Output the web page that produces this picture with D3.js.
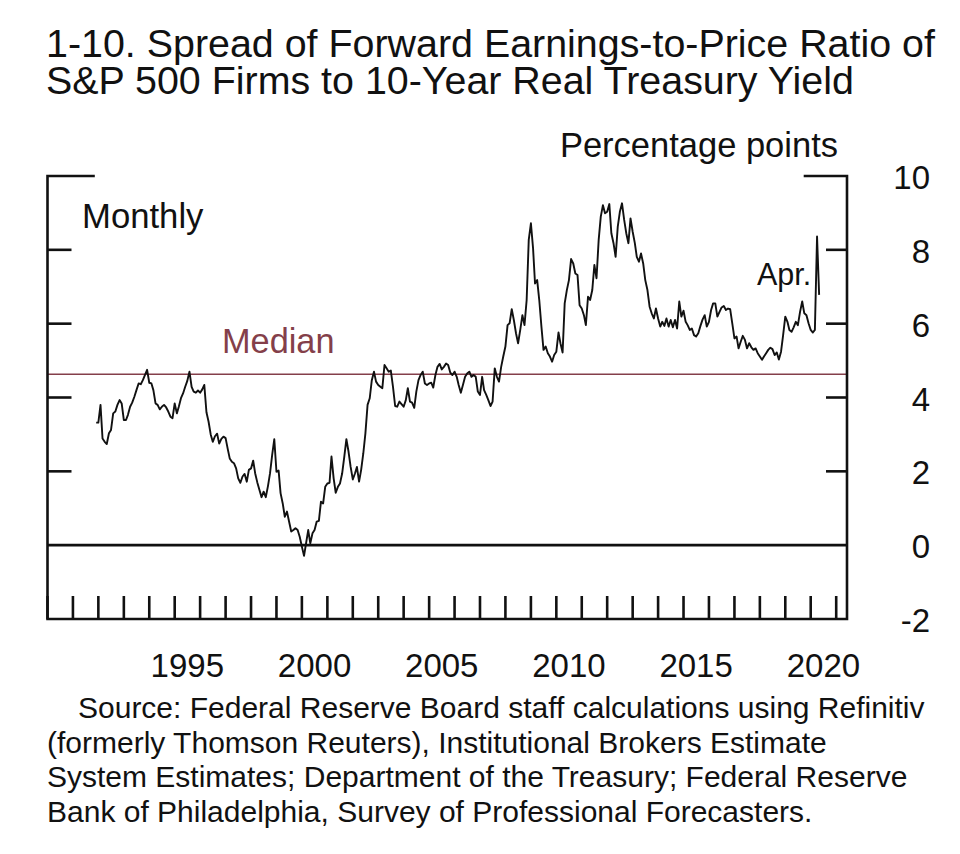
<!DOCTYPE html>
<html>
<head>
<meta charset="utf-8">
<script src="https://cdn.jsdelivr.net/npm/d3@7/dist/d3.min.js"></script>
<style>
  html, body { margin: 0; padding: 0; background: #fff; }
  svg { display: block; }
  text { font-family: "Liberation Sans", Arial, Helvetica, sans-serif; fill: #111; }
</style>
</head>
<body>
<svg id="chart" width="960" height="854"></svg>
<script>
// ---------------- data ----------------
const titleLines = [
  "1-10. Spread of Forward Earnings-to-Price Ratio of",
  "S&P 500 Firms to 10-Year Real Treasury Yield"
];
const unitLabel = "Percentage points";
const freqLabel = "Monthly";
const medianLabel = "Median";
const lastLabel = "Apr.";
const sourceLines = [
  "Source: Federal Reserve Board staff calculations using Refinitiv",
  "(formerly Thomson Reuters), Institutional Brokers Estimate",
  "System Estimates; Department of the Treasury; Federal Reserve",
  "Bank of Philadelphia, Survey of Professional Forecasters."
];
const yTickValues = [-2, 0, 2, 4, 6, 8, 10];
const yearLabels = [1995, 2000, 2005, 2010, 2015, 2020];
const firstMonth = "1991-11";   // first monthly observation
const medianValue = 4.63;

// monthly spread values, Nov 1991 .. Apr 2020 (percentage points)
const spread1991to1999 = [
  3.32, 3.32, 3.80, 2.89, 2.80, 2.74, 3.03, 3.12, 3.57, 3.62,
  3.80, 3.93, 3.84, 3.39, 3.39, 3.53, 3.75, 3.86, 4.02, 4.20,
  4.38, 4.36, 4.47, 4.61, 4.75, 4.40, 4.38, 4.20, 3.84, 3.80,
  3.68, 3.75, 3.80, 3.73, 3.62, 3.48, 3.44, 3.84, 3.57, 3.75,
  3.98, 4.11, 4.29, 4.45, 4.70, 4.29, 4.16, 4.13, 4.19, 4.13,
  4.22, 4.34, 3.60, 3.35, 3.00, 2.80, 2.95, 3.02, 2.75, 2.88,
  2.94, 2.90, 2.60, 2.35, 2.26, 2.22, 2.08, 1.81, 1.69, 1.86,
  1.93, 1.72, 2.04, 2.08, 2.29, 1.95, 1.70, 1.50, 1.30, 1.45,
  1.30, 1.60, 1.95, 2.45, 2.87, 1.99, 2.02, 1.41, 1.13, 0.77,
  0.91, 0.64
];
const spread1999to2008 = [
  0.37, 0.41, 0.46, 0.41, 0.23, -0.04, -0.29, 0.05, 0.41, 0.05,
  0.32, 0.41, 0.64, 0.66, 1.18, 1.13, 1.58, 1.67, 1.69, 2.40,
  1.81, 1.42, 1.58, 1.67, 1.94, 2.40, 2.87, 2.53, 2.12, 1.78,
  1.94, 2.12, 1.72, 2.04, 2.49, 3.03, 3.80, 3.98, 4.47, 4.70,
  4.43, 4.34, 4.29, 4.25, 4.88, 4.79, 4.70, 4.73, 4.29, 3.77,
  3.75, 3.89, 3.82, 3.75, 3.93, 4.25, 3.89, 3.86, 3.72, 4.16,
  4.47, 4.61, 4.70, 4.38, 4.34, 4.38, 4.40, 4.27, 4.61, 4.83,
  4.91, 4.76, 4.83, 4.92, 4.88, 4.67, 4.61, 4.70, 4.56, 4.34,
  4.13, 4.34, 4.56, 4.65, 4.70, 4.56, 4.61, 4.56, 4.16, 4.07,
  4.56, 4.20, 4.07, 3.93, 3.77, 3.89, 4.79, 4.56, 4.43, 4.83,
  5.11, 5.38, 5.96, 6.01
];
const spread2008to2014 = [
  6.39, 6.10, 5.74, 5.47, 5.83, 6.23, 5.96, 6.64, 8.27, 8.72,
  8.04, 7.09, 7.18, 6.64, 5.92, 5.29, 5.38, 5.20, 5.11, 4.97,
  5.15, 5.24, 5.76, 5.47, 5.22, 6.55, 6.91, 7.18, 7.75, 7.63,
  7.36, 7.32, 6.50, 6.41, 6.23, 5.96, 6.73, 6.64, 6.91, 7.59,
  7.23, 8.27, 8.90, 9.21, 8.99, 9.03, 9.24, 8.45, 8.18, 7.81,
  8.63, 9.03, 9.26, 8.81, 8.45, 8.18, 8.85, 8.49, 8.18, 7.81,
  7.68, 7.90, 7.63, 7.18, 6.91, 6.46, 6.28, 6.14, 6.41, 6.14
];
const spread2014to2020 = [
  5.92, 6.05, 5.94, 6.14, 5.92, 6.10, 5.90, 6.10, 5.87, 6.60,
  6.19, 6.35, 6.05, 5.96, 5.83, 5.87, 5.69, 5.65, 5.74, 5.94,
  6.11, 6.23, 5.92, 6.05, 6.37, 6.55, 6.55, 6.19, 6.32, 6.44,
  6.48, 6.37, 6.41, 6.39, 6.01, 5.60, 5.65, 5.33, 5.51, 5.67,
  5.56, 5.33, 5.47, 5.36, 5.29, 5.33, 5.20, 5.11, 5.02, 5.11,
  5.20, 5.29, 5.35, 5.31, 5.15, 5.22, 5.03, 5.24, 5.69, 6.19,
  6.05, 5.83, 5.78, 5.90, 6.05, 5.96, 6.32, 6.60, 6.28, 6.23,
  6.01, 5.83, 5.76, 5.83, 8.36, 6.78
];

// ---------------- build ----------------
const values = spread1991to1999.concat(spread1999to2008, spread2008to2014, spread2014to2020);
const parseMonth = d3.timeParse("%Y-%m");
const start = parseMonth(firstMonth);
// each monthly observation is plotted at the end of its month
const series = values.map((v, i) => ({ date: d3.timeMonth.offset(start, i + 1), value: v }));

const svg = d3.select("#chart");
const frame = { left: 47.5, right: 847, top: 176, bottom: 619 };

const x = d3.scaleTime()
  .domain([new Date(1990, 0, 1), new Date(2021, 5, 5)])
  .range([frame.left, frame.right]);
const y = d3.scaleLinear()
  .domain([-2, 10])
  .range([frame.bottom, frame.top]);

const ink = "#111";
const frameW = 2.6;
const medianColor = "#843f4a";

// title: one text block with a line per tspan
const title = svg.append("text")
  .attr("x", 46).attr("y", 57)
  .style("font-size", "39.4px");
title.selectAll("tspan").data(titleLines).join("tspan")
  .attr("x", 46)
  .attr("dy", (d, i) => i === 0 ? 0 : 37)
  .text(d => d);

// unit label
svg.append("text")
  .attr("x", 838).attr("y", 157)
  .attr("text-anchor", "end")
  .style("font-size", "34.5px")
  .text(unitLabel);

// median line (drawn under data)
svg.append("line")
  .attr("x1", frame.left).attr("x2", frame.right)
  .attr("y1", y(medianValue)).attr("y2", y(medianValue))
  .attr("stroke", medianColor).attr("stroke-width", 1.6);

svg.append("text")
  .attr("x", 222).attr("y", 353)
  .style("font-size", "34.3px")
  .style("fill", medianColor)
  .text(medianLabel);

// zero line
svg.append("line")
  .attr("x1", frame.left).attr("x2", frame.right)
  .attr("y1", y(0)).attr("y2", y(0))
  .attr("stroke", ink).attr("stroke-width", frameW);

// data line
const line = d3.line().x(d => x(d.date)).y(d => y(d.value));
svg.append("path")
  .datum(series)
  .attr("fill", "none")
  .attr("stroke", ink)
  .attr("stroke-width", 1.9)
  .attr("stroke-linejoin", "round")
  .attr("d", line);

// frame
const fg = svg.append("g").attr("stroke", ink).attr("stroke-width", frameW).attr("fill", "none");
fg.append("path").attr("d",
  `M${frame.left + 46},${frame.top}H${frame.left}V${frame.bottom}H${frame.right}V${frame.top}H${frame.right - 42}`)
  .attr("stroke-linecap", "square");

// y ticks (left and right, inward)
const innerTicks = yTickValues.filter(v => v > -2 && v < 10 && v !== 0);
fg.selectAll(".ytl").data(innerTicks).join("line")
  .attr("x1", frame.left).attr("x2", frame.left + 24)
  .attr("y1", d => y(d)).attr("y2", d => y(d));
fg.selectAll(".ytr").data(innerTicks).join("line")
  .attr("x1", frame.right - 21).attr("x2", frame.right)
  .attr("y1", d => y(d)).attr("y2", d => y(d));

// y labels (right side)
svg.append("g").selectAll("text").data(yTickValues).join("text")
  .attr("x", 930).attr("y", d => y(d) + 13)
  .attr("text-anchor", "end")
  .style("font-size", "33px")
  .text(d => d);

// x ticks: every year boundary, rising from the bottom
const yearTicks = d3.timeYear.range(new Date(1990, 0, 1), new Date(2022, 0, 1));
fg.selectAll(".xt").data(yearTicks).join("line")
  .attr("x1", d => x(d)).attr("x2", d => x(d))
  .attr("y1", frame.bottom).attr("y2", frame.bottom - 23);

// x labels centred on each labelled year
svg.append("g").selectAll("text").data(yearLabels).join("text")
  .attr("x", d => x(new Date(d, 6, 1)))
  .attr("y", 677)
  .attr("text-anchor", "middle")
  .style("font-size", "33px")
  .text(d => d);

// annotations
svg.append("text")
  .attr("x", 82).attr("y", 228)
  .style("font-size", "34.7px")
  .text(freqLabel);

svg.append("text")
  .attr("x", 757).attr("y", 285)
  .style("font-size", "30.5px")
  .text(lastLabel);

// source
svg.append("g").selectAll("text").data(sourceLines).join("text")
  .attr("x", (d, i) => i === 0 ? 78 : 47)
  .attr("y", (d, i) => 718 + i * 34.7)
  .style("font-size", "30px")
  .text(d => d);
</script>
</body>
</html>
